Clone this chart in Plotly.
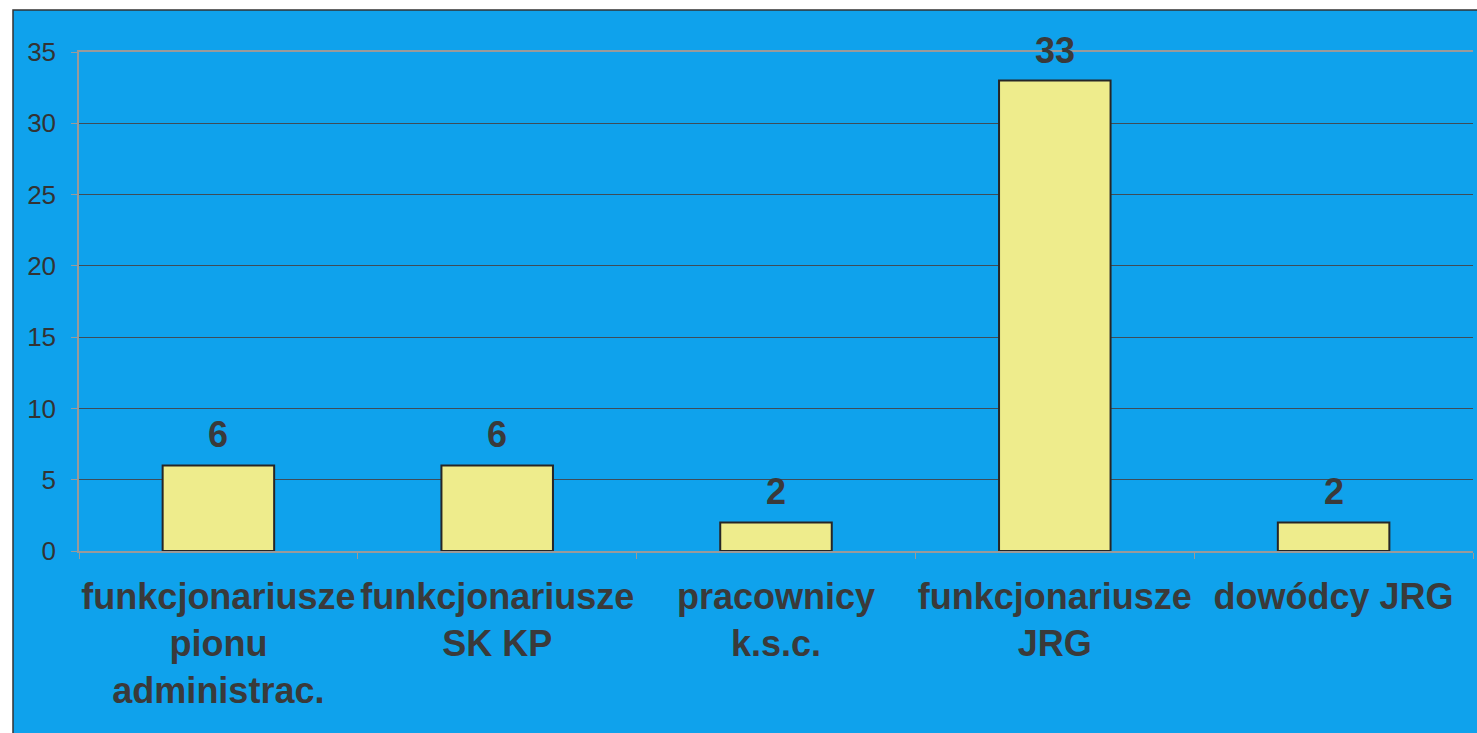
import plotly.graph_objects as go

categories = ["funkcjonariusze<br>pionu<br>administrac.", "funkcjonariusze<br>SK KP",
              "pracownicy<br>k.s.c.", "funkcjonariusze<br>JRG", "dowódcy JRG"]
values = [6, 6, 2, 33, 2]
y_ticks = [0, 5, 10, 15, 20, 25, 30, 35]

W, H = 1477, 733
L, R, T, B = 79, 4, 52, 182
pw, ph = W - L - R, H - T - B

def px_x(p):
    return (p - L) / pw

def px_y(p):
    return (H - B - p) / ph

BLUE = "#0FA2EC"

fig = go.Figure()
fig.add_trace(go.Bar(
    x=categories, y=values, width=0.4,
    marker=dict(color="#EEEC8C", line=dict(color="#262626", width=2)),
    hoverinfo="skip",
))

for c, v in zip(categories, values):
    fig.add_annotation(x=c, y=v, text=f"<b>{v}</b>", showarrow=False,
                       yanchor="bottom", yshift=8,
                       font=dict(family="Liberation Sans, Arial", size=36, color="#3a3a3a"))

fig.add_shape(type="rect", xref="paper", yref="paper",
              x0=px_x(13), x1=px_x(W + 20), y0=px_y(H + 20), y1=px_y(10),
              fillcolor=BLUE, line=dict(color="#333333", width=1.5), layer="below")

fig.update_layout(
    width=W, height=H,
    margin=dict(l=L, r=R, t=T, b=B),
    paper_bgcolor="white",
    plot_bgcolor="rgba(0,0,0,0)",
    showlegend=False,
    bargap=0.6,
    font=dict(family="Liberation Sans, Arial", color="#333333"),
)
fig.update_xaxes(
    showline=True, linecolor="#9a9a9a", linewidth=1.5, mirror=True,
    ticks="outside", tickson="boundaries", ticklen=6, tickcolor="#9a9a9a",
    tickfont=dict(family="Liberation Sans, Arial", size=36, color="#3a3a3a"),
    tickprefix="<b>", ticksuffix="</b>",
    ticklabelstandoff=13, showgrid=False, tickangle=0,
)
fig.update_yaxes(
    range=[0, 35], tickvals=y_ticks, ticktext=[str(t) for t in y_ticks],
    showline=True, linecolor="#9a9a9a", linewidth=1.5,
    ticks="outside", ticklen=6, tickcolor="#9a9a9a",
    showgrid=True, gridcolor="#3e4d58", gridwidth=1, zeroline=False,
    tickfont=dict(family="Liberation Sans, Arial", size=26, color="#333333"),
    ticklabelstandoff=10,
)

fig.write_html("out.html", config={"displayModeBar": False},
               post_script="document.body.style.margin='0';document.body.style.overflow='hidden';")
